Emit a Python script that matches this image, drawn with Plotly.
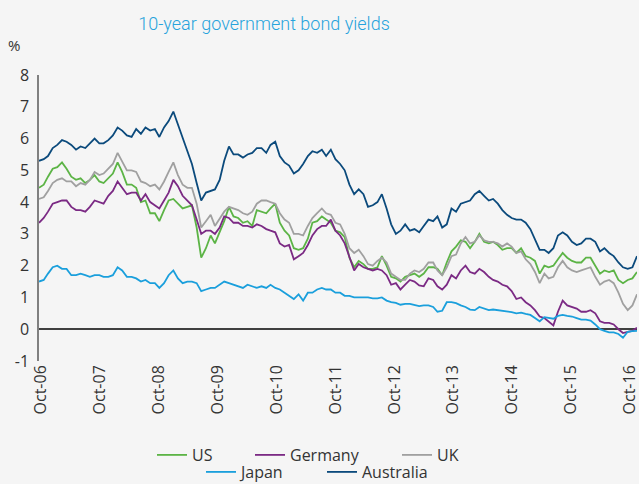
import pandas as pd
import plotly.graph_objects as go

# Monthly readings, Jan 2006 .. Oct 2016 (%)
dates = pd.date_range("2006-01-01", "2016-10-01", freq="MS")

us = [
    4.45, 4.55, 4.80, 5.05, 5.10, 5.25, 5.05, 4.80, 4.70, 4.75, 4.60, 4.70,
    4.85, 4.65, 4.60, 4.75, 4.90, 5.25, 4.95, 4.55, 4.55, 4.45, 4.00, 4.05,
    3.65, 3.65, 3.40, 3.75, 4.05, 4.10, 3.95, 3.80, 3.85, 3.90, 3.20, 2.25,
    2.55, 2.95, 2.70, 3.05, 3.40, 3.85, 3.55, 3.50, 3.35, 3.40, 3.25, 3.75,
    3.70, 3.65, 3.80, 3.95, 3.35, 3.10, 2.95, 2.55, 2.50, 2.55, 2.85, 3.35,
    3.40, 3.55, 3.45, 3.35, 3.10, 3.05, 2.90, 2.25, 1.95, 2.15, 2.05, 1.90,
    1.90, 1.95, 2.30, 2.00, 1.65, 1.60, 1.50, 1.65, 1.70, 1.75, 1.65, 1.75,
    1.95, 1.95, 1.90, 1.70, 2.10, 2.45, 2.60, 2.80, 2.75, 2.55, 2.75, 3.00,
    2.75, 2.70, 2.75, 2.65, 2.50, 2.55, 2.55, 2.40, 2.55, 2.30, 2.25, 2.15,
    1.75, 2.00, 1.95, 2.00, 2.20, 2.40, 2.25, 2.15, 2.10, 2.10, 2.25, 2.25,
    2.00, 1.75, 1.85, 1.80, 1.85, 1.55, 1.45, 1.55, 1.60, 1.80,
]

germany = [
    3.35, 3.50, 3.70, 3.95, 4.00, 4.05, 4.05, 3.85, 3.75, 3.75, 3.70, 3.85,
    4.05, 4.00, 3.95, 4.20, 4.35, 4.65, 4.45, 4.25, 4.30, 4.30, 4.05, 4.25,
    4.00, 3.90, 3.80, 4.05, 4.30, 4.70, 4.50, 4.20, 4.05, 3.90, 3.45, 3.00,
    3.10, 3.10, 3.00, 3.20, 3.55, 3.50, 3.35, 3.35, 3.25, 3.25, 3.20, 3.30,
    3.25, 3.15, 3.10, 3.05, 2.70, 2.60, 2.65, 2.20, 2.30, 2.40, 2.65, 2.95,
    3.15, 3.25, 3.25, 3.45, 3.10, 2.95, 2.70, 2.25, 1.85, 2.05, 1.95, 1.90,
    1.85, 1.90, 1.85, 1.70, 1.40, 1.45, 1.25, 1.40, 1.55, 1.50, 1.38, 1.35,
    1.60, 1.55, 1.35, 1.25, 1.40, 1.70, 1.60, 1.85, 2.00, 1.80, 1.75, 1.90,
    1.80, 1.65, 1.55, 1.50, 1.40, 1.35, 1.20, 0.95, 1.00, 0.85, 0.75, 0.60,
    0.40, 0.35, 0.25, 0.12, 0.55, 0.90, 0.75, 0.70, 0.65, 0.55, 0.55, 0.60,
    0.50, 0.25, 0.20, 0.20, 0.15, 0.00, -0.12, -0.08, -0.05, 0.05,
]

uk = [
    4.10, 4.15, 4.35, 4.60, 4.70, 4.75, 4.65, 4.65, 4.50, 4.60, 4.55, 4.70,
    4.95, 4.85, 4.90, 5.05, 5.20, 5.55, 5.30, 5.00, 5.00, 4.95, 4.65, 4.60,
    4.50, 4.55, 4.40, 4.65, 4.95, 5.25, 4.85, 4.55, 4.45, 4.45, 3.95, 3.20,
    3.40, 3.60, 3.25, 3.50, 3.70, 3.85, 3.80, 3.75, 3.65, 3.60, 3.70, 3.95,
    4.05, 4.05, 4.00, 3.95, 3.65, 3.45, 3.35, 3.00, 3.00, 2.95, 3.25, 3.50,
    3.65, 3.80, 3.65, 3.60, 3.35, 3.30, 3.00, 2.55, 2.40, 2.50, 2.30, 2.05,
    2.00, 2.15, 2.25, 2.10, 1.75, 1.65, 1.55, 1.55, 1.75, 1.85, 1.80, 1.90,
    2.10, 2.10, 1.85, 1.70, 1.95, 2.30, 2.35, 2.70, 2.90, 2.70, 2.75, 2.95,
    2.80, 2.75, 2.75, 2.70, 2.60, 2.70, 2.60, 2.40, 2.45, 2.20, 2.05, 1.80,
    1.45, 1.75, 1.60, 1.65, 1.95, 2.15, 1.95, 1.85, 1.80, 1.85, 1.90, 1.95,
    1.65, 1.40, 1.50, 1.55, 1.45, 1.15, 0.80, 0.60, 0.75, 1.10,
]

japan = [
    1.50, 1.55, 1.75, 1.95, 2.00, 1.90, 1.90, 1.70, 1.70, 1.75, 1.70, 1.65,
    1.70, 1.70, 1.65, 1.65, 1.70, 1.95, 1.85, 1.65, 1.65, 1.60, 1.50, 1.55,
    1.45, 1.45, 1.30, 1.45, 1.70, 1.85, 1.60, 1.45, 1.50, 1.50, 1.45, 1.20,
    1.25, 1.30, 1.30, 1.40, 1.50, 1.45, 1.40, 1.35, 1.30, 1.40, 1.35, 1.30,
    1.35, 1.30, 1.40, 1.30, 1.25, 1.15, 1.05, 0.95, 1.10, 0.90, 1.15, 1.15,
    1.25, 1.30, 1.25, 1.25, 1.15, 1.15, 1.05, 1.05, 1.00, 1.00, 1.00, 1.00,
    0.97, 0.97, 1.00, 0.90, 0.85, 0.83, 0.77, 0.80, 0.80, 0.77, 0.73, 0.75,
    0.75, 0.70, 0.55, 0.58, 0.85, 0.85, 0.82, 0.75, 0.70, 0.62, 0.60, 0.70,
    0.66, 0.60, 0.62, 0.60, 0.60, 0.57, 0.54, 0.50, 0.52, 0.48, 0.45, 0.35,
    0.25, 0.38, 0.35, 0.33, 0.42, 0.45, 0.42, 0.40, 0.35, 0.30, 0.30, 0.27,
    0.15, 0.00, -0.05, -0.10, -0.10, -0.15, -0.27, -0.08, -0.06, -0.05,
]

australia = [
    5.30, 5.35, 5.45, 5.70, 5.80, 5.95, 5.90, 5.80, 5.65, 5.75, 5.70, 5.85,
    6.00, 5.85, 5.85, 5.95, 6.10, 6.35, 6.25, 6.10, 6.05, 6.30, 6.15, 6.35,
    6.25, 6.30, 6.05, 6.35, 6.55, 6.85, 6.45, 6.00, 5.60, 5.20, 4.60, 4.05,
    4.30, 4.35, 4.40, 4.70, 5.30, 5.75, 5.50, 5.50, 5.40, 5.50, 5.55, 5.70,
    5.70, 5.55, 5.80, 5.90, 5.45, 5.25, 5.15, 4.90, 5.00, 5.20, 5.45, 5.60,
    5.55, 5.65, 5.45, 5.65, 5.35, 5.20, 5.00, 4.55, 4.25, 4.40, 4.25, 3.85,
    3.90, 4.00, 4.25, 3.80, 3.30, 3.00, 3.10, 3.30, 3.10, 3.15, 3.05, 3.25,
    3.45, 3.40, 3.55, 3.20, 3.30, 3.80, 3.70, 3.95, 4.00, 4.05, 4.25, 4.35,
    4.20, 4.05, 4.10, 3.95, 3.75, 3.60, 3.50, 3.45, 3.45, 3.35, 3.15, 2.85,
    2.50, 2.50, 2.40, 2.55, 2.95, 3.05, 2.95, 2.75, 2.65, 2.70, 2.85, 2.85,
    2.75, 2.45, 2.55, 2.40, 2.30, 2.10, 1.95, 1.90, 1.95, 2.30,
]

tick_labels = ["Oct-06", "Oct-07", "Oct-08", "Oct-09", "Oct-10", "Oct-11",
               "Oct-12", "Oct-13", "Oct-14", "Oct-15", "Oct-16"]
# label slots are evenly spread along the axis
tick_positions = pd.date_range("2006-01-14", "2016-08-16", periods=len(tick_labels))

y_ticks = [-1, 0, 1, 2, 3, 4, 5, 6, 7, 8]
y_tick_labels = ["-1", "0", "1", "2", "3", "4", "5", "6", "7", "8"]

# name, values, colour, legend slot, legend x (px), legend row y (px)
series = [
    ("US", us, "#5cb446", "legend", 152, 455),
    ("Germany", germany, "#7b2a84", "legend2", 250, 455),
    ("UK", uk, "#a0a0a0", "legend3", 397, 455),
    ("Japan", japan, "#1a9fdc", "legend4", 201, 472),
    ("Australia", australia, "#0b4a7c", "legend5", 322, 472),
]

W, H = 639, 484
FONT = "Open Sans, Noto Sans, sans-serif"
BG = "#f5f5f5"

fig = go.Figure()
legends = {}
for name, vals, color, lg, lx, ly in series:
    fig.add_trace(go.Scatter(
        x=dates, y=vals, name=name, mode="lines",
        line=dict(color=color, width=1.8),
        legend=lg,
    ))
    legends[lg] = dict(
        orientation="h", xref="container", yref="container",
        x=lx / W, xanchor="left", y=1 - ly / H, yanchor="middle",
        font=dict(size=16, color="#333333"), bgcolor="rgba(0,0,0,0)",
        borderwidth=0,
    )

fig.update_layout(
    width=W, height=H,
    paper_bgcolor=BG, plot_bgcolor=BG,
    margin=dict(l=39, r=2, t=75, b=123),
    font=dict(family=FONT, color="#333333", size=15),
    title=dict(
        text="10-year government bond yields",
        font=dict(family="Roboto, sans-serif", size=18, weight=300, color="#27a3dc"),
        x=264 / W, xanchor="center", xref="container",
        y=1 - 24 / H, yanchor="middle", yref="container",
    ),
    xaxis=dict(
        range=[dates[0], dates[-1]],
        tickmode="array", tickvals=tick_positions, ticktext=tick_labels,
        tickangle=-90, showgrid=False, showline=False, zeroline=False,
        ticks="", tickfont=dict(size=16, color="#333333"), automargin=False,
        ticklabeloverflow="allow",
    ),
    yaxis=dict(
        range=[-1, 8], tickmode="array", tickvals=y_ticks, ticktext=y_tick_labels,
        showgrid=False, showline=True, linecolor="#808080", linewidth=1.5,
        zeroline=True, zerolinecolor="#404040", zerolinewidth=1.5,
        ticks="", ticklabelstandoff=5,
        tickfont=dict(size=16, color="#333333"), automargin=False,
    ),
    showlegend=True,
    **legends,
)

fig.add_annotation(
    text="%", xref="paper", yref="paper",
    x=(14 - 39) / 598, y=(361 - 45) / 286,
    showarrow=False, xanchor="center", yanchor="middle",
    font=dict(size=15, color="#333333"),
)

fig.write_html("out.html", config={"displayModeBar": False},
               post_script="document.body.style.margin='0px';")
